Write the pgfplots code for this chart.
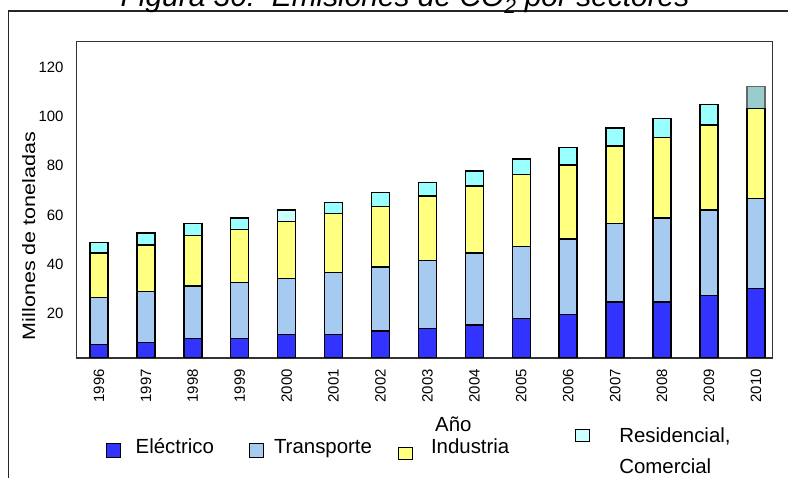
\documentclass[border=0pt]{standalone}
\usepackage{fontspec}
\setmainfont{Liberation Sans}
\usepackage{graphicx}
\usepackage{pgfplots}
\pgfplotsset{compat=1.18}
\usepackage{pgfplotstable}
\definecolor{cE}{HTML}{3333FF}
\definecolor{cT}{HTML}{A6CAF0}
\definecolor{cI}{HTML}{FFFF80}
\definecolor{cR}{HTML}{99FFFF}
\definecolor{cRl}{HTML}{CCFFFF}
\definecolor{cRg}{HTML}{99CCCC}
\pgfplotsset{
  legA/.style={legend image code/.code={\draw[##1, line width=1bp] (0bp,-10bp) rectangle (14bp,4bp);}},
  legI/.style={legend image code/.code={\draw[##1, line width=1bp] (0bp,-12bp) rectangle (14bp,0bp);}},
  legR/.style={legend image code/.code={\draw[##1, fill=cRl, line width=1bp] (0bp,5.5bp) rectangle (14bp,18bp);}},
}
\pgfplotstableread{
x year E T I R Rl Rg
0 1996 7.4 19.1 18.1 4.1 0 0
1 1997 8.1 20.7 19.0 4.8 0 0
2 1998 9.9 21.2 20.6 4.9 0 0
3 1999 9.9 22.7 21.5 4.7 0 0
4 2000 11.5 22.7 23.0 0 4.8 0
5 2001 11.5 25.0 24.1 4.5 0 0
6 2002 12.8 26.1 24.6 5.7 0 0
7 2003 13.8 27.6 26.3 5.4 0 0
8 2004 15.3 29.3 27.1 6.1 0 0
9 2005 18.0 29.1 29.4 6.2 0 0
10 2006 19.6 30.6 30.0 7.2 0 0
11 2007 24.7 31.8 31.5 7.3 0 0
12 2008 24.7 34.1 32.5 7.9 0 0
13 2009 27.2 34.8 34.5 8.4 0 0
14 2010 30.2 36.5 36.5 0 0 8.8
}\datatable
\begin{document}
\begin{tikzpicture}
\path[use as bounding box] (0,0) rectangle (788bp,478bp);
\draw[line width=1.5bp, black!85] (8.3bp,-20bp) rectangle (820bp,467bp);
\node[font=\fontsize{30}{34}\selectfont\itshape, anchor=base] at (405bp,471bp) {Figura 30:\ \ Emisiones de CO\textsubscript{2} por sectores};
\begin{axis}[
  at={(76.7bp,120bp)}, anchor=south west,
  scale only axis, width=695.6bp, height=316.3bp,
  ybar stacked, bar width=18bp,
  xmin=-0.475, xmax=14.35, ymin=1.9, ymax=130.3,
  xtick={0,...,14},
  xticklabels from table={\datatable}{year},
  ytick={20,40,...,120},
  major tick length=0pt,
  axis line style={line width=1.5bp, black!80},
  tick label style={font=\fontsize{15}{18}\selectfont},
  /pgf/number format/assume math mode=true,
  xticklabel style={rotate=90, anchor=east, inner sep=0pt},
  xticklabel shift=11bp,
  yticklabel style={inner sep=0pt, anchor=east},
  yticklabel shift=13bp,
  ylabel={\scalebox{1.2}[1]{Millones de toneladas}},
  ylabel style={at={(axis description cs:-0.0599,0.3857)}, anchor=base, font=\fontsize{18}{20}\selectfont},
  xlabel={Año},
  xlabel style={at={(axis description cs:0.5414,-0.2308)}, anchor=base, font=\fontsize{20.5}{24}\selectfont},
  legend columns=4,
  legend style={at={(axis description cs:0.0417,-0.2814)}, anchor=west, draw=none, fill=none,
    inner sep=0pt, outer sep=0pt, font=\fontsize{20.5}{31}\selectfont,
    nodes={inner sep=0pt}, cells={anchor=west, align=left},
    /tikz/column 1/.style={column sep=15bp},
    /tikz/column 2/.style={column sep=35bp},
    /tikz/column 3/.style={column sep=10bp},
    /tikz/column 4/.style={column sep=26bp},
    /tikz/column 5/.style={column sep=18bp},
    /tikz/column 6/.style={column sep=66bp},
    /tikz/column 7/.style={column sep=29bp}},
  legA,
]
\addplot[fill=cE, draw=black, line width=1.4bp] table[x=x, y=E]{\datatable};
\addlegendentry{Eléctrico}
\addplot[fill=cT, draw=black, line width=1.4bp] table[x=x, y=T]{\datatable};
\addlegendentry{Transporte}
\addplot[fill=cI, draw=black, line width=1.4bp, legI] table[x=x, y=I]{\datatable};
\addlegendentry{Industria}
\addplot[fill=cR, draw=black, line width=1.4bp, legR] table[x=x, y=R]{\datatable};
\addlegendentry{\raisebox{14bp}{\begin{tabular}{@{}l@{}}Residencial,\\Comercial\end{tabular}}}
\addplot[fill=cRl, draw=black, line width=1.4bp, forget plot] table[x=x, y=Rl]{\datatable};
\addplot[fill=cRg, draw=black!60, line width=1.4bp, forget plot] table[x=x, y=Rg]{\datatable};
\end{axis}
\end{tikzpicture}
\end{document}
